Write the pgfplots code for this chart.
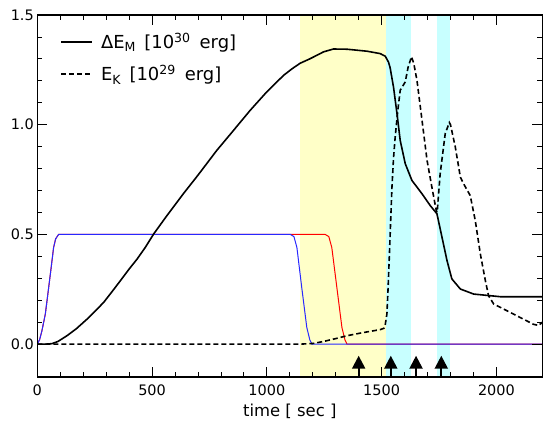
\documentclass[border=0pt]{standalone}
\usepackage{pgfplots}
\pgfplotsset{compat=1.18}
\usepackage{fontspec}
\setmainfont{DejaVu Sans}
\usetikzlibrary{arrows.meta}
\definecolor{shadey}{RGB}{255,255,200}
\definecolor{shadec}{RGB}{200,255,255}
\definecolor{myblue}{RGB}{40,40,255}
\begin{document}
\begin{tikzpicture}
\useasboundingbox (-37.3bp,-52bp) rectangle (514.7bp,377bp);
\begin{axis}[
  scale only axis, width=505bp, height=362bp,
  xmin=0, xmax=2200, ymin=-0.15, ymax=1.5,
  xtick={0,500,1000,1500,2000}, minor x tick num=4,
  ytick={0,0.5,1,1.5}, minor y tick num=4,
  yticklabel style={/pgf/number format/fixed, /pgf/number format/fixed zerofill, /pgf/number format/precision=1},
  xticklabel style={/pgf/number format/1000 sep={}, yshift=-4bp},
  /pgf/number format/assume math mode=true,
  tick align=inside, major tick length=10bp, minor tick length=5bp,
  every tick/.style={black, line width=0.8bp},
  axis line style={line width=1.1bp},
  ticklabel style={font=\fontsize{14.5}{17}\selectfont},
  xlabel={time [ sec ]},
  xlabel style={font=\fontsize{16.5}{19}\selectfont, at={(axis description cs:0.5,0)}, anchor=base, yshift=-39bp},
  axis on top,
  legend style={draw=none, fill=none, at={(0,1)}, anchor=north west, xshift=23bp, yshift=-16bp,
    font=\fontsize{18}{21}\selectfont, row sep=11bp, inner sep=0pt, column sep=6bp,
    cells={anchor=west}},
  legend image code/.code={\draw[#1, line width=1.6bp] (0bp,0bp) -- (31bp,0bp);},
]
% shaded intervals
\addplot[fill=shadey, draw=none, forget plot] coordinates {(1145,-0.2) (1145,1.6) (1520,1.6) (1520,-0.2)} -- cycle;
\addplot[fill=shadec, draw=none, forget plot] coordinates {(1520,-0.2) (1520,1.6) (1629,1.6) (1629,-0.2)} -- cycle;
\addplot[fill=shadec, draw=none, forget plot] coordinates {(1741,-0.2) (1741,1.6) (1799,1.6) (1799,-0.2)} -- cycle;
% red and blue
\addplot[red, line width=1bp, forget plot] coordinates {
(0,0) (10,0.02) (20,0.06) (35,0.137) (57,0.32) (71,0.44) (80,0.48) (93,0.5)
(1254,0.5) (1270,0.49) (1283,0.44) (1305,0.258) (1327,0.076) (1340,0.02) (1349,0) (2200,0)};
\addplot[myblue, line width=1bp, forget plot] coordinates {
(0,0) (10,0.02) (20,0.06) (35,0.137) (57,0.32) (71,0.44) (80,0.48) (93,0.5)
(1102,0.5) (1118,0.49) (1131,0.44) (1152,0.258) (1174,0.076) (1187,0.02) (1196,0) (2200,0)};
% Delta E_M
\addplot[black, line width=1.6bp] coordinates {
(0,0) (40,0) (64,0.002) (90,0.012) (129,0.038) (170,0.07) (217,0.114) (250,0.148)
(289,0.19) (330,0.245) (362,0.289) (400,0.342) (435,0.388) (470,0.44) (507,0.502)
(565,0.586) (636,0.685) (700,0.77) (782,0.883) (850,0.968) (927,1.065) (1000,1.15)
(1073,1.225) (1110,1.255) (1145,1.28) (1189,1.301) (1247,1.332) (1290,1.345)
(1349,1.344) (1436,1.335) (1494,1.324) (1516,1.312) (1530,1.285) (1537,1.26)
(1552,1.17) (1567,1.05) (1581,0.928) (1603,0.822) (1632,0.746) (1676,0.685)
(1712,0.631) (1741,0.594) (1763,0.487) (1785,0.38) (1806,0.297) (1843,0.251)
(1901,0.228) (2017,0.216) (2200,0.216)};
\addlegendentry{ΔE\textsubscript{M}\hspace{0.15em} [10\textsuperscript{30}\hspace{0.5em}erg]}
% E_K
\addplot[black, line width=1.6bp, dash pattern=on 5bp off 3bp] coordinates {
(0,0) (1150,0) (1202,0.003) (1247,0.012) (1300,0.025) (1349,0.038) (1407,0.05)
(1450,0.058) (1494,0.066) (1510,0.072) (1516,0.09) (1523,0.137) (1528,0.25)
(1534,0.411) (1545,0.715) (1552,0.85) (1559,0.943) (1570,1.06) (1581,1.157)
(1603,1.195) (1615,1.26) (1630,1.31) (1640,1.28) (1654,1.202) (1676,1.02)
(1698,0.837) (1719,0.715) (1738,0.609) (1742,0.6) (1755,0.776) (1777,0.959)
(1795,1.01) (1800,1.0) (1821,0.898) (1843,0.761) (1857,0.731) (1886,0.677)
(1908,0.563) (1930,0.411) (1952,0.289) (1966,0.22) (1988,0.183) (2046,0.152)
(2104,0.121) (2162,0.09) (2185,0.085) (2200,0.1)};
\addlegendentry{E\textsubscript{K}\hspace{0.15em} [10\textsuperscript{29}\hspace{0.5em}erg]}
% arrows
\addplot[black, line width=2.2bp, -{Triangle[width=13bp,length=13bp]},
  quiver={u=0, v=0.097}, forget plot] coordinates {(1400,-0.15) (1540,-0.15) (1650,-0.15) (1760,-0.15)};
\end{axis}
\end{tikzpicture}
\end{document}
